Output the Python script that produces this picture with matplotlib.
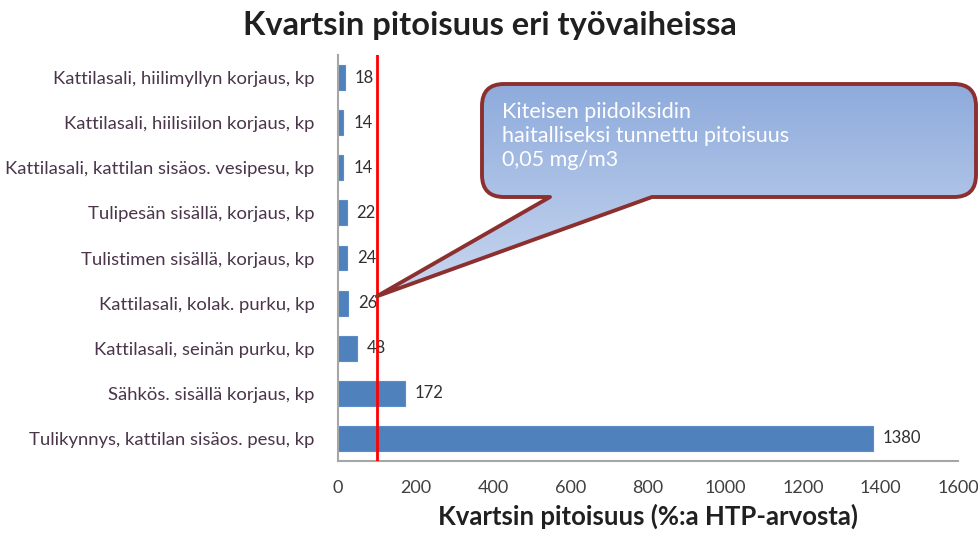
import numpy as np
import matplotlib
matplotlib.use("Agg")
import matplotlib.pyplot as plt
from matplotlib.path import Path
from matplotlib.patches import PathPatch

# data (top to bottom as in the chart)
categories = [
    "Kattilasali, hiilimyllyn korjaus, kp",
    "Kattilasali, hiilisiilon korjaus, kp",
    "Kattilasali, kattilan sisäos. vesipesu, kp",
    "Tulipesän sisällä, korjaus, kp",
    "Tulistimen sisällä, korjaus, kp",
    "Kattilasali, kolak. purku, kp",
    "Kattilasali, seinän purku, kp",
    "Sähkös. sisällä korjaus, kp",
    "Tulikynnys, kattilan sisäos. pesu, kp",
]
values = [18, 14, 14, 22, 24, 26, 48, 172, 1380]
limit_value = 100
xticks = [0, 200, 400, 600, 800, 1000, 1200, 1400, 1600]
callout_lines = ["Kiteisen piidoiksidin",
                 "haitalliseksi tunnettu pitoisuus",
                 "0,05 mg/m3"]

plt.rcParams["font.family"] = ["Lato", "DejaVu Sans"]

W, H = 979, 534
fig = plt.figure(figsize=(W / 100, H / 100), dpi=100)
ax = fig.add_axes([338 / W, 73 / H, 620 / W, 406 / H])

y = np.arange(len(categories))
ax.barh(y, values, height=0.55, color="#4f81bd", edgecolor="#5b8cc8", lw=0.8)
ax.set_ylim(len(categories) - 0.5, -0.5)
ax.set_xlim(0, 1600)
ax.set_xticks(xticks)
ax.set_yticks(y)
ax.set_yticklabels(categories, fontsize=13.3, color="#4a354a")
ax.tick_params(axis="y", length=0, pad=17)
ax.tick_params(axis="x", length=0, pad=14, labelsize=13, labelcolor="#404040")

for s in ["top", "right"]:
    ax.spines[s].set_visible(False)
for s in ["left", "bottom"]:
    ax.spines[s].set_color("#a6a6a6")
    ax.spines[s].set_linewidth(1.5)

for yi, v in zip(y, values):
    ax.text(v + 25, yi, str(v), va="center", ha="left", fontsize=12, color="#303030")

ax.axvline(limit_value, color="#ff0000", lw=2, zorder=5)

ax.set_xlabel("Kvartsin pitoisuus (%:a HTP-arvosta)", fontsize=18.5,
              fontweight="bold", color="#202020", labelpad=5)
fig.text(0.5, 1 - 25 / H, "Kvartsin pitoisuus eri työvaiheissa", ha="center",
         va="center", fontsize=23.5, fontweight="bold", color="#202020")

# callout in pixel coords on an overlay axes
ov = fig.add_axes([0, 0, 1, 1], zorder=10)
ov.set_xlim(0, W)
ov.set_ylim(H, 0)
ov.axis("off")

tip_disp = ax.transData.transform((limit_value, 5 - 0.15))
tip = (tip_disp[0], H - tip_disp[1])

x0, x1, y0, y1, r = 482, 976, 84, 197, 22
verts = [
    (x0 + r, y0), (x1 - r, y0), (x1, y0), (x1, y0 + r),
    (x1, y1 - r), (x1, y1), (x1 - r, y1),
    (652, y1), tip, (550, y1),
    (x0 + r, y1), (x0, y1), (x0, y1 - r),
    (x0, y0 + r), (x0, y0), (x0 + r, y0), (x0 + r, y0),
]
codes = [
    Path.MOVETO, Path.LINETO, Path.CURVE3, Path.CURVE3,
    Path.LINETO, Path.CURVE3, Path.CURVE3,
    Path.LINETO, Path.LINETO, Path.LINETO,
    Path.LINETO, Path.CURVE3, Path.CURVE3,
    Path.LINETO, Path.CURVE3, Path.CURVE3, Path.CLOSEPOLY,
]
shape = PathPatch(Path(verts, codes), facecolor="none", edgecolor="#8c2f2f",
                  lw=2.8, joinstyle="round", zorder=3)

grad = np.linspace(0, 1, 256).reshape(-1, 1)
top = np.array(matplotlib.colors.to_rgb("#8eabdc"))
bot = np.array(matplotlib.colors.to_rgb("#c9d7f0"))
img = top + (bot - top) * grad[..., None]
im = ov.imshow(img, extent=(tip[0], x1, tip[1], y0), aspect="auto", zorder=2)
fill = PathPatch(Path(verts, codes), facecolor="none", edgecolor="none")
ov.add_patch(fill)
im.set_clip_path(fill)
ov.add_patch(shape)

for i, line in enumerate(callout_lines):
    ov.text(502, 112 + i * 24, line, color="white", fontsize=15.5,
            va="center", ha="left", zorder=4)

fig.savefig("out.png", dpi=100)
